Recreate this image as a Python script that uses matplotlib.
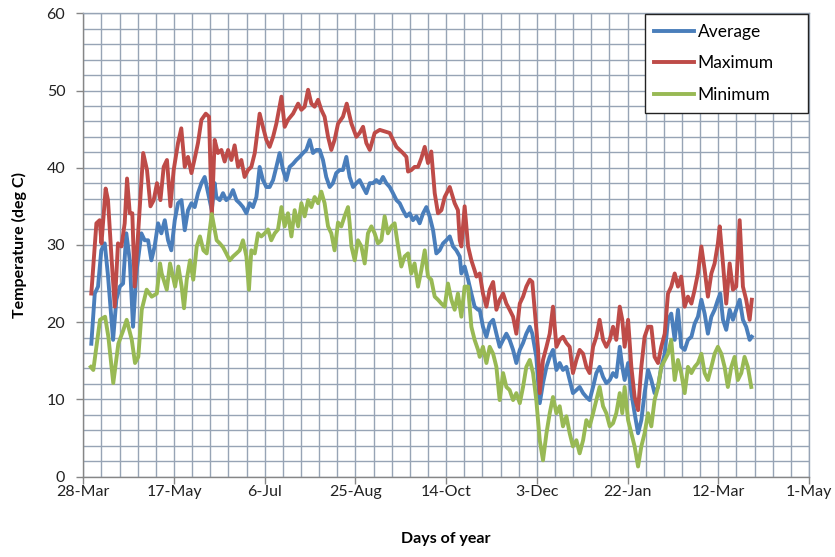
import numpy as np
import matplotlib
matplotlib.use("Agg")
import matplotlib.pyplot as plt
from matplotlib.ticker import MultipleLocator, FixedLocator, FixedFormatter

# days counted from 28-Mar (deg C)
max_days = [4.4, 7.2, 9, 10, 12.3, 13.6, 15.5, 17.3, 19.1, 21, 22.8, 24.1, 25.6, 27, 28.3, 30.2,
            33, 35.1, 37, 38.8, 40.6, 42.5, 44.3, 46.1, 48, 49.8, 52.2, 54, 55.9, 57.7, 59.6,
            61.4, 63.2, 65.1, 67.5, 69.3, 70.8, 72.4, 74.2, 76.1, 77.9, 79.8, 81.6, 83.4, 85.3,
            87.1, 88.9, 90.8, 92.6, 94.5, 97.2, 99, 100.9, 102.7, 104.6, 106.4, 109.2, 111,
            112.8, 115.6, 118.4, 120.2, 122, 123.9, 125.7, 127.5, 129.4, 131.2, 133, 134.9,
            136.7, 138.5, 140.4, 143.1, 145.2, 147.8, 150.5, 152.3, 154.2, 156, 157.9, 160.6,
            163.4, 166.1, 168.9, 170.7, 172.6, 174.4, 176.2, 178.1, 179, 180.8, 182.6, 184.5,
            186.3, 188.2, 190, 191.8, 193.7, 195.5, 197.4, 199.2, 202, 204.7, 206.5, 207.5,
            208.4, 210.2, 212.1, 213.9, 215.7, 216.7, 218.5, 220.3, 222.2, 224, 225.9, 227.7,
            229.5, 231.4, 233.2, 235, 236.9, 238.7, 240.6, 242.4, 244.2, 246.1, 247.5, 248.8,
            250.7, 251.6, 253.4, 255.3, 257.1, 258.9, 260.8, 262.6, 264.4, 266.3, 268.1, 269.9,
            271.8, 273.6, 275.5, 277.3, 279.1, 281, 282.8, 284.6, 286.5, 288.3, 290.2, 292,
            293.8, 295.7, 297.1, 298.4, 300.3, 302.1, 303.9, 305.8, 307.6, 309.4, 311.3, 313.1,
            314.9, 316.8, 318.6, 320.5, 322.3, 324.1, 326, 327.8, 329.6, 331.5, 333.3, 335.2,
            337, 338.8, 340.7, 342.5, 344.3, 346.2, 348, 349.8, 350.8, 352.6, 354.4, 356.3,
            358.1, 359.9, 361.8, 363.6, 365.4, 367.3, 368.5]
max_vals = [23.7, 32.8, 33.2, 30.2, 37.3, 35.8, 28.5, 22, 30.2, 29.8, 32.8, 38.6, 34.1, 34.1, 24.6, 31.5,
            41.9, 39.7, 35, 35.8, 38, 35.8, 40.1, 41, 35, 39.7, 43.2, 45.1, 40.1, 41.4, 39.3,
            41.2, 43.2, 46.2, 47, 46.6, 33.6, 43.6, 41.9, 42.3, 40.8, 42.3, 41.0, 42.9, 40.1,
            41.0, 38.8, 39.7, 40.1, 41.9, 47.0, 45.3, 43.6, 42.7, 44.0, 45.7, 49.2, 45.3,
            46.2, 47.0, 48.3, 47.5, 47.9, 50.1, 48.3, 47.9, 48.8, 47.5, 46.6, 44.0,
            42.3, 43.6, 45.7, 46.6, 48.3, 45.7, 44.0, 44.5, 45.3, 43.2, 42.3, 44.5,
            44.9, 44.7, 44.5, 43.6, 42.7, 42.3, 41.9, 41.4, 39.5, 39.7, 40.1, 40.1,
            41.2, 42.7, 40.6, 42.1, 36.7, 34.1, 34.5, 36.2, 37.5, 35.4, 34.5, 30.6,
            29.8, 35.0, 29.8, 28.0, 26.7, 25.9, 26.3, 23.7, 22.0, 24.2, 25.2, 21.6,
            22.9, 23.7, 22.4, 21.6, 20.7, 18.5, 22.4, 23.3, 24.6, 25.5, 25.2, 21.6,
            16.4, 10.8, 15.1, 16.8, 18.5, 22.0, 16.8, 17.7, 18.1, 17.3, 16.8, 13.4,
            15.1, 16.4, 15.9, 14.2, 13.4, 16.8, 18.1, 20.3, 17.7, 16.8, 17.7, 19.4,
            17.7, 22.0, 20.3, 16.8, 20.3, 14.2, 10.3, 8.6, 14.2, 18.1, 19.4, 19.4,
            15.5, 14.7, 16.8, 18.5, 23.7, 24.6, 26.3, 24.6, 25.9, 22.0, 23.3, 22.4,
            24.2, 26.3, 29.8, 26.8, 23.3, 26.3, 27.6, 30.2, 32.4, 27.6, 22.4, 27.6,
            24.2, 24.6, 33.2, 24.6, 22.9, 20.3, 22.9]

avg_days = [4.4, 6.3, 8.1, 9.9, 11.8, 13.6, 16.4, 18.2, 20.1, 21.9, 23.7, 25.6, 27.4, 29.2, 32,
            33.8, 35.7, 37.5, 39.3, 41.2, 43, 44.9, 46.7, 48.5, 50.4, 52.2, 54.1, 55.9, 57.7,
            59.6, 61.4, 63.2, 65.1, 66.9, 68.8, 70.8, 72.4, 73.3, 75.2, 77, 78.8, 80.7, 82.5,
            84.4, 86.2, 88, 89.9, 91.7, 93.5, 95.4, 97.2, 99, 100.9, 102.7, 104.6, 106.4,
            108.2, 110.1, 111.9, 113.7, 115.6, 117.4, 119.2, 121.1, 122.9, 124.8, 126.6,
            128.4, 130.3, 132.1, 133.9, 135.8, 137.6, 139.4, 141.3, 143.1, 145, 146.8,
            148.7, 150.5, 152.3, 154.2, 156, 157.9, 159.7, 161.5, 163.4, 165.2, 167, 168.9,
            170.7, 172.6, 174.4, 176.2, 178.1, 179.9, 181.7, 183.6, 185.4, 187.3, 189.1,
            190.9, 192.8, 194.6, 196.4, 198.3, 200.1, 202, 203.8, 205.6, 207.5, 208.4,
            210.2, 212.1, 213.9, 215.7, 217.6, 218.5, 220.3, 222.2, 224, 225.9, 227.7,
            229.5, 231.4, 233.2, 235, 236.9, 238.7, 240.6, 242.4, 244.2, 246.1, 247.5,
            249.7, 251.6, 253.4, 255.3, 257.1, 258.9, 260.8, 262.6, 264.4, 266.3, 268.1,
            269.9, 271.8, 273.6, 275.5, 277.3, 279.1, 281, 282.8, 284.6, 286.5, 288.3,
            290.2, 292, 293.8, 295.7, 297.1, 298.4, 300.3, 302.1, 303.9, 305.8, 307.6,
            309.4, 311.3, 313.1, 314.9, 316.8, 318.6, 320.5, 322.3, 324.1, 326, 327.8,
            329.6, 331.5, 333.3, 335.2, 337, 338.8, 340.7, 342.5, 344.3, 346.2, 348,
            349.8, 351.1, 352.6, 354.4, 356.3, 358.1, 359.9, 361.8, 363.6, 365.4, 367.3,
            368.5]
avg_vals = [17.2, 23.7, 24.6, 29.3, 30.2, 26, 17.7, 22.9, 24.6, 25.0, 31.5, 28.0, 19.4, 26.3, 31.5,
            30.6, 30.6, 28.0, 29.8, 32.8, 31.5, 33.2, 30.6, 29.3, 33.2, 35.4, 35.8, 31.9, 34.5,
            35.4, 34.9, 36.7, 38.0, 38.8, 36.7, 34.5, 38.0, 36.2, 35.8, 36.7, 35.8, 36.2, 37.1,
            35.8, 35.4, 34.9, 34.1, 35.4, 34.9, 36.2, 40.1, 38.4, 37.5, 37.5, 38.4, 40.1,
            41.9, 39.7, 38.4, 40.1, 40.5, 41.0, 41.4, 41.9, 42.3, 43.6, 41.9,
            42.3, 42.3, 41.0, 38.8, 37.5, 38.0, 39.3, 39.7, 39.7, 41.4, 38.8,
            37.5, 38.0, 38.4, 37.5, 36.7, 38.0, 38.0, 38.4, 38.0, 38.8, 38.0, 37.5,
            36.7, 35.8, 35.4, 34.5, 33.7, 34.1, 33.2, 33.7, 32.8, 34.1, 34.9,
            33.7, 31.9, 28.9, 29.3, 30.2, 30.6, 31.1, 29.8, 29.3, 28.5, 26.3,
            27.2, 25.5, 23.7, 22.0, 21.6, 21.6, 19.4, 18.1, 19.8, 20.3, 18.5,
            16.8, 17.7, 18.5, 17.7, 16.4, 14.7, 16.4, 17.3, 18.5, 19.4, 18.5,
            15.5, 9.5, 12.1, 14.2, 15.5, 16.4, 13.8, 14.7, 13.8, 14.2, 12.5,
            10.8, 11.2, 11.6, 10.8, 10.3, 9.9, 11.6, 13.4, 14.2, 12.9, 12.1,
            12.5, 13.4, 12.9, 16.8, 14.2, 12.5, 14.7, 10.8, 8.2, 5.6, 7.3,
            10.8, 13.8, 12.5, 10.8, 11.6, 14.2, 15.9, 20.3, 21.1, 17.7, 21.6,
            16.8, 16.4, 17.7, 18.1, 19.8, 20.7, 22.9, 21.1, 18.5, 20.7, 21.6,
            22.9, 23.7, 20.3, 19.0, 21.6, 20.3, 21.6, 22.9, 20.3, 19.4, 17.7,
            18.1]

min_days = [4.1, 5.5, 9.2, 12, 13.8, 16.5, 19.3, 22.1, 23.9, 26.7, 28.5, 30.3, 32.2, 34.9, 37.7,
            40.5, 42.3, 43.2, 46, 47.8, 50.6, 52.4, 54.2, 55.5, 57, 58.8, 60.6, 62.5, 64.3,
            66.2, 68, 70.8, 73.5, 75.2, 77, 78.8, 80.7, 82.5, 84.4, 86.2, 88, 89.9, 91.3,
            92.6, 94.5, 96.3, 98.1, 100, 101.8, 103.6, 105.5, 107.3, 109.2, 111, 112.8,
            114.7, 116.5, 118.4, 120.2, 122, 123.9, 125.7, 127.5, 129.4, 131.2, 133, 134.9,
            136.7, 138.5, 140.4, 142.2, 144, 145.9, 146.8, 147.8, 149.6, 151.4, 153.3, 155.1,
            156.9, 158.8, 160.6, 162.4, 164.3, 166.1, 167.9, 169.8, 171.6, 173.5, 175.3,
            177.1, 179, 180.8, 182.6, 184.5, 186.3, 188.2, 190, 191.8, 193.7, 195.5, 197.4,
            199.2, 201, 202.9, 204.7, 206.5, 208.4, 210.2, 212.1, 213.9, 215.7, 217.6,
            218.5, 220.3, 222.2, 224, 225.9, 227.7, 229.5, 231.4, 233.2, 235, 236.9, 238.7,
            240.6, 242.4, 244.2, 246.1, 247.9, 249.7, 251.6, 253.4, 255.3, 257.1, 258.9,
            260.8, 262.6, 264.4, 266.3, 268.1, 269.9, 271.8, 273.6, 275.5, 277.3, 279.1,
            281, 282.8, 284.6, 286.5, 288.3, 290.2, 292, 293.8, 295.7, 297.1, 298.4, 300.3,
            302.1, 303.9, 305.8, 307.6, 309.4, 311.3, 313.1, 314.9, 316.8, 318.6, 322.3,
            324.1, 326, 327.8, 329.6, 331.5, 333.3, 335.2, 337, 338.8, 340.7, 342.5, 344.3,
            346.2, 348, 349.8, 351.7, 353.5, 355.3, 357.2, 359, 360.8, 362.7, 364.5, 366.3,
            368.2]
min_vals = [14.2, 13.8, 20.3, 20.7, 18.1, 12.1, 17.2, 19.0, 20.3, 17.7, 14.7, 15.5, 21.6, 24.2, 23.3,
            23.7, 27.6, 26.3, 24.2, 27.6, 24.6, 27.2, 24.6, 21.8, 25.5, 28.0, 25.5, 29.8, 31.1,
            29.3, 28.9, 34.0, 30.6, 30.2, 29.7, 28.9, 28.0, 28.5, 28.9, 29.3, 30.6, 28.5, 24.2,
            29.3, 28.9, 31.5, 31.1, 31.5, 32.0, 30.6, 31.5, 32.0, 34.9, 32.4, 34.1,
            31.1, 34.5, 32.4, 35.4, 33.7, 35.8, 34.9, 36.2, 35.4, 36.9, 35.4, 32.4,
            31.5, 29.3, 32.9, 32.4, 33.7, 34.9, 32.8, 29.8, 28.0, 30.6, 29.8, 27.6,
            31.5, 32.4, 31.5, 30.2, 30.6, 33.7, 31.5, 32.4, 32.8, 29.8, 27.2,
            28.5, 28.9, 26.3, 27.6, 24.6, 26.7, 29.3, 25.9, 25.5, 23.3, 22.9, 22.4,
            22.0, 25.0, 22.9, 21.6, 23.7, 20.7, 24.6, 24.6, 19.4, 17.7, 16.4,
            15.5, 16.8, 14.7, 16.8, 15.9, 14.2, 9.9, 13.4, 11.6, 11.2, 9.9, 10.8,
            9.5, 11.6, 14.2, 15.1, 13.4, 9.9, 4.7, 2.1, 5.6, 8.2, 10.3,
            8.2, 9.1, 6.5, 7.8, 5.6, 3.9, 4.7, 3.0, 4.7, 7.3, 6.5,
            8.2, 9.9, 11.6, 9.1, 8.2, 6.5, 6.9, 8.2, 10.8, 8.2, 11.6, 7.3,
            5.6, 3.9, 1.3, 3.9, 5.6, 8.2, 6.5, 9.9, 11.6, 14.2, 15.9,
            17.7, 12.5, 15.1, 13.4, 10.8, 14.2, 13.4, 14.2, 14.7, 15.9, 13.4, 12.5,
            14.2, 15.9, 16.8, 15.9, 14.2, 11.6, 14.2, 15.5, 12.5, 13.4, 15.5, 14.2,
            11.6]

tick_days = [0, 50, 100, 150, 200, 250, 300, 350, 400]
tick_labels = ['28-Mar', '17-May', '6-Jul', '25-Aug', '14-Oct', '3-Dec', '22-Jan', '12-Mar', '1-May']

plt.rcParams['font.family'] = ['Lato', 'DejaVu Sans']

fig = plt.figure(figsize=(8.35, 5.57), dpi=100)
ax = fig.add_axes([0.0998, 0.1445, 0.869, 0.8316])

grid_col = '#97a4b5'
ax.plot(avg_days, avg_vals, color='#4a7ebb', lw=2.8, label='Average', zorder=3)
ax.plot(max_days, max_vals, color='#be4b48', lw=2.8, label='Maximum', zorder=3)
ax.plot(min_days, min_vals, color='#98b954', lw=2.8, label='Minimum', zorder=3)

ax.set_xlim(0, 400)
ax.set_ylim(0, 60)
ax.xaxis.set_major_locator(FixedLocator(tick_days))
ax.xaxis.set_major_formatter(FixedFormatter(tick_labels))
ax.xaxis.set_minor_locator(MultipleLocator(10))
ax.yaxis.set_major_locator(MultipleLocator(10))
ax.yaxis.set_minor_locator(MultipleLocator(2))

ax.grid(True, which='both', color=grid_col, lw=1.0)
ax.set_axisbelow(True)

for s in ['top', 'right']:
    ax.spines[s].set_color(grid_col)
    ax.spines[s].set_linewidth(1.0)
for s in ['left', 'bottom']:
    ax.spines[s].set_color('#868686')
    ax.spines[s].set_linewidth(1.0)

ax.tick_params(which='major', direction='out', length=5, width=1, color='#868686',
               labelsize=11.5, labelcolor='#222222')
ax.tick_params(axis='x', which='major', pad=1)
ax.tick_params(axis='y', which='major', pad=8)
ax.tick_params(which='minor', length=0)

ax.set_xlabel('Days of year', fontsize=11.5, fontweight='bold', labelpad=24)
ax.set_ylabel('Temperature (deg C)', fontsize=11.5, fontweight='bold', labelpad=14)

# legend box spans the right ~23% of the plot, entries centred in it
leg = ax.legend(loc='upper right', bbox_to_anchor=(0.7726, 0.0, 0.2274, 1.0),
                mode='expand', alignment='center', borderaxespad=0.05,
                fontsize=12.5, frameon=True, fancybox=False, handlelength=2.3,
                handletextpad=0.2, labelspacing=0.9, borderpad=0.55)
leg.get_frame().set_edgecolor('#222222')
leg.get_frame().set_linewidth(1.0)
leg.get_frame().set_alpha(1)

fig.savefig('out.png', dpi=100)
